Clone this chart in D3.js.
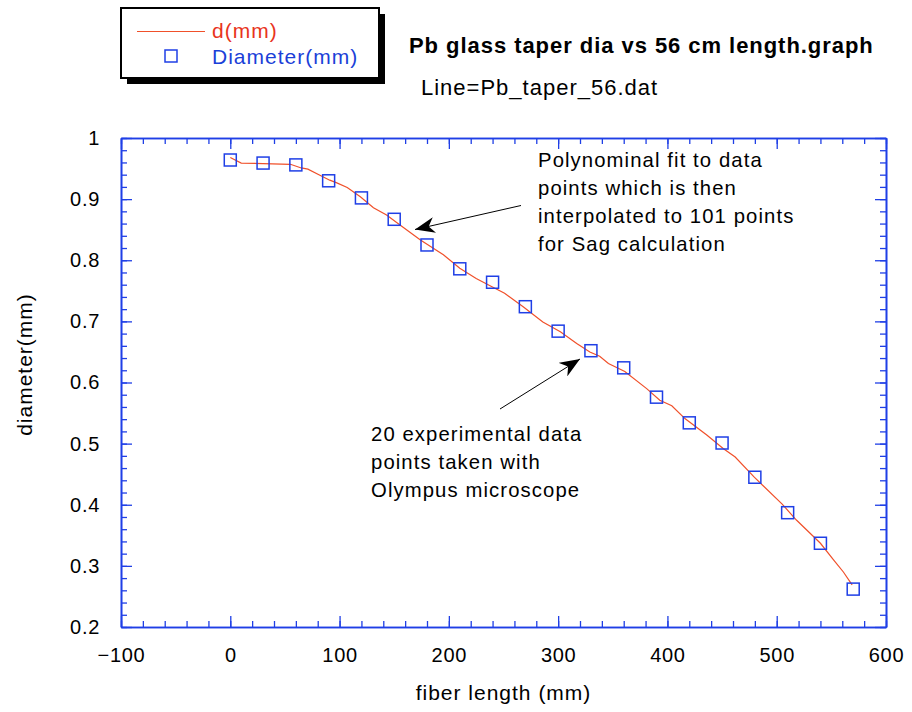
<!DOCTYPE html>
<html>
<head>
<meta charset="utf-8">
<script src="https://cdn.jsdelivr.net/npm/d3@7"></script>
<style>
  body { margin: 0; background: #fff; }
  svg { font-family: "Liberation Sans", Arial, sans-serif; }
</style>
</head>
<body>
<div id="chart"></div>
<script>
// measured diameters (squares)
const sampleX = [0, 30, 60, 90, 120, 150, 180, 210, 240, 270, 300, 330, 360, 390, 420, 450, 480, 510, 540, 570];
const sampleD = [0.964, 0.959, 0.956, 0.930, 0.902, 0.867, 0.825, 0.786, 0.764, 0.724, 0.684, 0.652, 0.624, 0.576, 0.534, 0.501, 0.445, 0.387, 0.337, 0.262];

// polynomial fit line d(mm)
const fitX = [0, 10, 30, 55, 65, 71, 82, 91, 97, 107, 119, 131, 143, 155, 174, 195, 210, 225, 239, 251, 268, 286, 302, 317, 329, 338, 346, 361, 381, 393, 404, 416, 436, 451, 462, 479, 505, 518, 540, 552, 561, 569];
const fitD = [0.968, 0.959, 0.958, 0.957, 0.951, 0.949, 0.939, 0.931, 0.927, 0.919, 0.904, 0.886, 0.874, 0.858, 0.833, 0.809, 0.787, 0.770, 0.757, 0.746, 0.724, 0.699, 0.683, 0.664, 0.650, 0.643, 0.631, 0.618, 0.590, 0.571, 0.562, 0.541, 0.514, 0.492, 0.478, 0.446, 0.401, 0.375, 0.337, 0.310, 0.290, 0.269];

const xMajor = [-100, 0, 100, 200, 300, 400, 500, 600];
const yMajor = [0.2, 0.3, 0.4, 0.5, 0.6, 0.7, 0.8, 0.9, 1];

const axisColor = "#1f3fe6";
const lineColor = "#f0502a";
const markColor = "#1f3fe6";

const width = 912, height = 712;
const plot = { left: 121, right: 886, top: 138, bottom: 627 };

const svg = d3.select("#chart").append("svg")
  .attr("width", width)
  .attr("height", height);

const x = d3.scaleLinear().domain([-100, 600]).range([plot.left, plot.right]);
const y = d3.scaleLinear().domain([0.2, 1]).range([plot.bottom, plot.top]);

const xMinor = d3.range(-100, 601, 20);
const yMinor = d3.range(0, 41).map(i => 0.2 + i * 0.02);

function styleAxis(g, labels) {
  g.select(".domain").attr("stroke", axisColor).attr("stroke-width", 1.6);
  g.selectAll(".tick line").attr("stroke", axisColor).attr("stroke-width", 1.3);
  g.selectAll(".tick text")
    .attr("fill", "#000")
    .style("font-size", "20px")
    .style("letter-spacing", "0.7px")
    .style("display", labels ? null : "none");
}

// minor ticks on all four sides
svg.append("g").attr("transform", `translate(0,${plot.bottom})`)
  .call(d3.axisBottom(x).tickValues(xMinor).tickSize(-6).tickSizeOuter(0).tickFormat(""))
  .call(g => styleAxis(g, false));
svg.append("g").attr("transform", `translate(0,${plot.top})`)
  .call(d3.axisTop(x).tickValues(xMinor).tickSize(-6).tickSizeOuter(0).tickFormat(""))
  .call(g => styleAxis(g, false));
svg.append("g").attr("transform", `translate(${plot.left},0)`)
  .call(d3.axisLeft(y).tickValues(yMinor).tickSize(-6).tickSizeOuter(0).tickFormat(""))
  .call(g => styleAxis(g, false));
svg.append("g").attr("transform", `translate(${plot.right},0)`)
  .call(d3.axisRight(y).tickValues(yMinor).tickSize(-6).tickSizeOuter(0).tickFormat(""))
  .call(g => styleAxis(g, false));

// major ticks with labels
svg.append("g").attr("transform", `translate(0,${plot.bottom})`)
  .call(d3.axisBottom(x).tickValues(xMajor).tickSize(-11).tickSizeOuter(0).tickPadding(21).tickFormat(d3.format("d")))
  .call(g => styleAxis(g, true));
svg.append("g").attr("transform", `translate(0,${plot.top})`)
  .call(d3.axisTop(x).tickValues(xMajor).tickSize(-11).tickSizeOuter(0).tickFormat(""))
  .call(g => styleAxis(g, false));
svg.append("g").attr("transform", `translate(${plot.left},0)`)
  .call(d3.axisLeft(y).tickValues(yMajor).tickSize(-11).tickSizeOuter(0).tickPadding(21).tickFormat(d => d === 1 ? "1" : d3.format(".1f")(d)))
  .call(g => styleAxis(g, true));
svg.append("g").attr("transform", `translate(${plot.right},0)`)
  .call(d3.axisRight(y).tickValues(yMajor).tickSize(-11).tickSizeOuter(0).tickFormat(""))
  .call(g => styleAxis(g, false));

// fit line
const fit = fitX.map((v, i) => ({ x: v, d: fitD[i] }));
svg.append("path")
  .datum(fit)
  .attr("fill", "none")
  .attr("stroke", lineColor)
  .attr("stroke-width", 1.2)
  .attr("d", d3.line().x(d => x(d.x)).y(d => y(d.d)));

// measured squares
const pts = sampleX.map((v, i) => ({ x: v, d: sampleD[i] }));
svg.append("g").selectAll("rect").data(pts).enter().append("rect")
  .attr("x", d => x(d.x) - 6)
  .attr("y", d => y(d.d) - 6)
  .attr("width", 12)
  .attr("height", 12)
  .attr("fill", "none")
  .attr("stroke", markColor)
  .attr("stroke-width", 1.5);

// axis titles
svg.append("text")
  .attr("x", (plot.left + plot.right) / 2)
  .attr("y", 700)
  .attr("text-anchor", "middle")
  .style("font-size", "21px")
  .style("letter-spacing", "1px")
  .text("fiber length (mm)");
svg.append("text")
  .attr("transform", `translate(32,${(plot.top + plot.bottom) / 2 - 18}) rotate(-90)`)
  .attr("text-anchor", "middle")
  .style("font-size", "21px")
  .style("letter-spacing", "1px")
  .text("diameter(mm)");

// legend box with shadow
svg.append("rect").attr("x", 127).attr("y", 14).attr("width", 258).attr("height", 70).attr("fill", "#000");
svg.append("rect").attr("x", 121).attr("y", 8).attr("width", 258).attr("height", 70)
  .attr("fill", "#fff").attr("stroke", "#000").attr("stroke-width", 2);
svg.append("line").attr("x1", 137).attr("x2", 205).attr("y1", 31.5).attr("y2", 31.5)
  .attr("stroke", lineColor).attr("stroke-width", 1.2);
svg.append("text").attr("x", 212).attr("y", 38).attr("fill", "#e8341c")
  .style("font-size", "21px").style("letter-spacing", "1px").text("d(mm)");
svg.append("rect").attr("x", 165).attr("y", 50).attr("width", 12).attr("height", 12)
  .attr("fill", "none").attr("stroke", markColor).attr("stroke-width", 1.5);
svg.append("text").attr("x", 212).attr("y", 64).attr("fill", "#1b3fd8")
  .style("font-size", "21px").style("letter-spacing", "1px").text("Diameter(mm)");

// title lines
svg.append("text").attr("x", 409).attr("y", 53).style("font-size", "22px").style("font-weight", "bold")
  .style("letter-spacing", "0.95px")
  .text("Pb glass taper dia vs 56 cm length.graph");
svg.append("text").attr("x", 421).attr("y", 95).style("font-size", "22px")
  .style("letter-spacing", "1px")
  .text("Line=Pb_taper_56.dat");

// annotations
const defs = svg.append("defs");
defs.append("marker")
  .attr("id", "arrow")
  .attr("viewBox", "0 0 20 16")
  .attr("refX", 20).attr("refY", 8)
  .attr("markerWidth", 20).attr("markerHeight", 16)
  .attr("markerUnits", "userSpaceOnUse")
  .attr("orient", "auto")
  .append("path")
  .attr("d", "M0,0 L20,8 L0,16 L6,8 Z")
  .attr("fill", "#000");

const note1 = ["Polynominal fit to data", "points which is then", "interpolated to 101 points", "for Sag calculation"];
svg.append("g").selectAll("text").data(note1).enter().append("text")
  .attr("x", 538).attr("y", (d, i) => 167 + i * 28)
  .style("font-size", "20.3px").style("letter-spacing", "1.1px").text(d => d);
svg.append("line").attr("x1", 521).attr("y1", 205.5).attr("x2", 415).attr("y2", 229.5)
  .attr("stroke", "#000").attr("stroke-width", 1).attr("marker-end", "url(#arrow)");

const note2 = ["20 experimental data", "points taken with", "Olympus microscope"];
svg.append("g").selectAll("text").data(note2).enter().append("text")
  .attr("x", 371).attr("y", (d, i) => 441 + i * 28)
  .style("font-size", "20.3px").style("letter-spacing", "1.1px").text(d => d);
svg.append("line").attr("x1", 500).attr("y1", 409).attr("x2", 580).attr("y2", 359)
  .attr("stroke", "#000").attr("stroke-width", 1).attr("marker-end", "url(#arrow)");
</script>
</body>
</html>
